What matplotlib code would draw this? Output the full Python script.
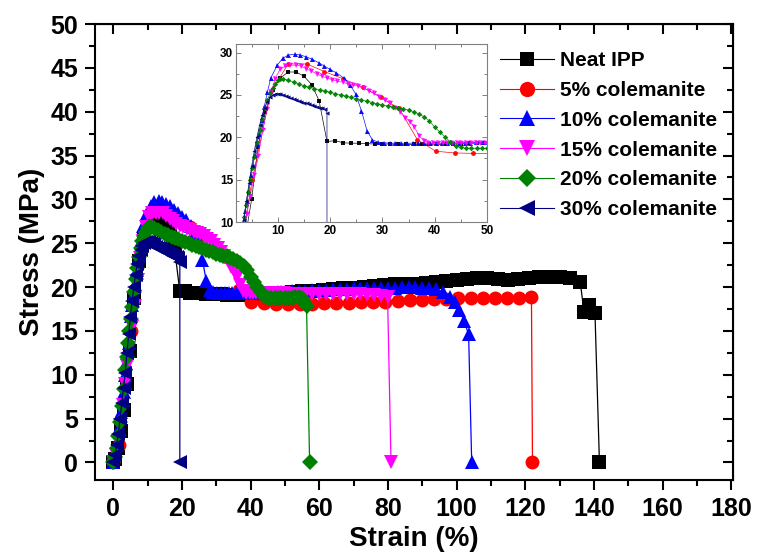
import matplotlib
matplotlib.use('Agg')
import matplotlib.pyplot as plt
from matplotlib.ticker import MultipleLocator

plt.rcParams['font.family'] = ['Liberation Sans', 'DejaVu Sans']
plt.rcParams['font.weight'] = 'bold'

# stress-strain data (strain %, stress MPa)
neat_x = [0.0, 0.5, 1.3, 2.2, 3.1, 4.0, 5.0, 6.2, 7.6, 9.0, 10.5, 12.0, 13.5, 15.0, 16.5, 17.9, 19.4,
          21.0, 22.5, 24.0, 25.5, 27.0, 28.5, 30.0, 31.5, 33.0, 34.5, 36.0, 37.5, 39.0, 40.5, 42.0, 43.5,
          45.0, 46.5, 48.0, 49.5, 52.0, 55.0, 58.0, 61.0, 64.0, 67.0, 70.0, 73.0, 76.0, 79.0, 82.0, 85.0,
          88.0, 91.0, 94.0, 97.0, 100.0, 103.0, 106.0, 109.0, 112.0, 115.0, 118.0, 121.0, 124.0, 127.0,
          130.0, 133.0, 136.0, 137.1, 138.6, 140.3, 141.6]
neat_y = [0.0, 0.4, 1.6, 3.6, 6.0, 9.0, 12.7, 18.8, 23.0, 25.6, 27.0, 27.7, 27.7, 27.2, 26.2, 24.3, 19.5,
          19.6, 19.35, 19.3, 19.3, 19.25, 19.2, 19.2, 19.2, 19.15, 19.15, 19.15, 19.15, 19.15, 19.15, 19.2,
          19.2, 19.25, 19.3, 19.3, 19.3, 19.4, 19.5, 19.6, 19.7, 19.8, 19.9, 19.95, 20.0, 20.1, 20.2, 20.3,
          20.3, 20.4, 20.5, 20.6, 20.7, 20.8, 20.9, 21.0, 21.0, 20.9, 20.8, 20.9, 21.0, 21.1, 21.1, 21.1,
          21.0, 20.6, 17.2, 18.0, 17.0, 0.0]

c5_x = [0.0, 1.6, 5.1, 8.7, 12.0, 15.6, 18.9, 22.5, 26.2, 29.7, 33.2, 36.7, 40.2, 43.8, 47.3, 50.8,
        54.4, 57.9, 61.5, 65.0, 68.6, 72.1, 75.7, 79.2, 82.8, 86.3, 89.9, 93.4, 97.0, 100.5, 104.1,
        107.6, 111.2, 114.7, 118.3, 121.8, 122.1]
c5_y = [0.0, 2.0, 15.0, 25.4, 28.65, 28.65, 27.75, 26.9, 25.9, 24.7, 23.4, 19.7, 18.35, 18.15, 18.1,
        18.1, 18.1, 18.1, 18.15, 18.2, 18.2, 18.25, 18.3, 18.35, 18.4, 18.5, 18.55, 18.6, 18.65, 18.7,
        18.75, 18.75, 18.8, 18.8, 18.8, 18.85, 0.0]

c10_x = [0.0, 0.6, 1.2, 1.8, 2.4, 3.0, 3.4, 3.8, 4.1, 4.5, 4.8, 5.2, 5.6, 6.0, 6.4, 6.9, 7.4, 8.0, 8.65,
         9.9, 10.9, 12.0, 13.2, 14.3, 15.4, 16.6, 17.8, 18.9, 20.0, 21.2, 22.6, 23.8, 24.9, 26.0, 27.1,
         28.1, 29.2, 30.3, 31.4, 32.5, 33.6, 34.7, 35.8, 36.9, 38.0, 39.1, 40.2, 41.3, 42.4, 43.5, 44.6,
         45.7, 46.8, 47.9, 49.0, 50.1, 52.0, 54.0, 56.0, 58.0, 60.0, 62.0, 64.0, 66.0, 68.0, 70.0, 72.0,
         74.0, 76.0, 78.0, 80.0, 82.0, 84.0, 86.0, 88.0, 90.0, 92.0, 94.0, 96.0, 98.0, 99.6, 100.8,
         102.2, 103.5, 104.4]
c10_y = [0.0, 0.8, 2.2, 3.9, 5.8, 8.0, 10.0, 11.3, 12.5, 13.6, 15.5, 16.7, 17.9, 19.2, 20.4, 22.0, 23.6,
         25.3, 27.0, 28.5, 29.3, 29.7, 29.8, 29.7, 29.5, 29.2, 28.8, 28.4, 28.0, 27.6, 27.0, 26.2, 25.1,
         23.1, 20.7, 19.7, 19.4, 19.35, 19.3, 19.3, 19.3, 19.3, 19.3, 19.3, 19.3, 19.3, 19.3, 19.3, 19.3,
         19.3, 19.35, 19.35, 19.35, 19.4, 19.4, 19.4, 19.5, 19.55, 19.6, 19.65, 19.7, 19.7, 19.75, 19.8,
         19.8, 19.85, 19.85, 19.9, 19.9, 19.9, 19.95, 19.95, 20.0, 20.0, 20.0, 19.95, 19.9, 19.75, 19.45,
         18.9, 18.3, 17.4, 16.1, 14.6, 0.0]

c15_x = [0.0, 0.7, 1.4, 2.1, 2.8, 3.5, 4.1, 4.7, 5.5, 6.3, 7.1, 7.9, 8.7, 9.5, 10.4, 11.4, 12.4, 13.4,
         14.4, 15.4, 16.4, 17.4, 18.4, 19.4, 20.4, 21.4, 22.4, 23.4, 24.4, 25.4, 26.4, 27.4, 28.4, 29.4,
         30.4, 31.4, 32.4, 33.4, 34.4, 35.3, 36.1, 37.0, 37.9, 38.8, 39.7, 40.6, 41.5, 42.4, 43.3, 44.2,
         45.1, 46.0, 46.9, 47.8, 48.7, 49.6, 52.0, 54.0, 56.0, 58.0, 60.0, 62.0, 64.0, 66.0, 68.0, 70.0,
         72.0, 74.0, 76.0, 78.0, 79.9, 80.9]
c15_y = [0.0, 0.9, 2.4, 4.3, 6.5, 8.9, 11.0, 13.0, 15.5, 17.8, 20.8, 23.3, 25.3, 26.9, 28.0, 28.4, 28.5,
         28.5, 28.4, 28.1, 27.8, 27.5, 27.2, 27.0, 26.8, 26.6, 26.5, 26.3, 26.2, 26.0, 25.8, 25.5, 25.2,
         24.8, 24.4, 24.0, 23.5, 23.0, 22.3, 21.8, 21.2, 20.2, 19.6, 19.35, 19.3, 19.3, 19.3, 19.3, 19.3,
         19.3, 19.3, 19.3, 19.3, 19.3, 19.3, 19.3, 19.25, 19.25, 19.2, 19.2, 19.2, 19.2, 19.2, 19.2, 19.2,
         19.2, 19.2, 19.15, 19.1, 19.0, 18.9, 0.0]

c20_x = [0.0, 0.5, 1.0, 1.5, 2.0, 2.5, 3.0, 3.5, 3.9, 4.3, 4.7, 5.1, 5.5, 6.0, 6.5, 7.0, 7.5, 8.0, 8.5,
         9.0, 9.5, 10.0, 10.5, 11.0, 12.0, 13.0, 14.0, 15.0, 16.0, 17.0, 18.0, 19.0, 20.0, 21.0, 22.0,
         23.0, 24.0, 25.0, 26.0, 27.0, 28.0, 29.0, 30.0, 31.0, 32.0, 33.0, 34.0, 35.0, 36.0, 37.0, 38.0,
         39.0, 40.0, 41.0, 42.0, 43.0, 44.0, 45.0, 46.0, 47.0, 48.0, 49.0, 50.0, 51.0, 52.0, 53.0, 54.0,
         55.0, 55.7, 56.3, 57.2]
c20_y = [0.0, 0.6, 1.7, 3.0, 4.6, 6.4, 8.4, 10.6, 12.0, 13.6, 15.0, 16.4, 17.7, 19.4, 20.9, 22.2, 23.4,
         24.4, 25.2, 25.8, 26.3, 26.7, 26.9, 26.9, 26.7, 26.5, 26.3, 26.05, 25.9, 25.75, 25.6, 25.45, 25.3,
         25.15, 25.0, 24.85, 24.7, 24.55, 24.4, 24.25, 24.1, 23.95, 23.8, 23.7, 23.6, 23.5, 23.35, 23.2,
         23.0, 22.75, 22.4, 21.9, 21.2, 20.6, 20.0, 19.45, 19.0, 18.8, 18.7, 18.7, 18.7, 18.7, 18.7,
         18.75, 18.8, 18.85, 18.9, 18.7, 18.3, 17.8, 0.0]

c30_x = [0.0, 0.5, 1.0, 1.5, 2.0, 2.5, 3.0, 3.5, 4.0, 4.5, 5.0, 5.5, 6.0, 6.5, 7.0, 7.5, 8.0, 8.5, 9.0,
         9.5, 10.0, 10.5, 11.0, 11.5, 12.0, 12.5, 13.0, 13.5, 14.0, 14.5, 15.0, 15.5, 16.0, 16.5, 17.0,
         17.5, 18.0, 18.5, 19.0, 19.4, 19.4]
c30_y = [0.0, 0.8, 2.0, 3.3, 5.0, 6.8, 8.5, 10.2, 12.5, 14.6, 16.6, 18.4, 20.0, 21.4, 22.6, 23.5, 24.2,
         24.7, 25.0, 25.1, 25.15, 25.1, 25.0, 24.9, 24.75, 24.6, 24.5, 24.4, 24.3, 24.2, 24.1, 24.0, 23.9,
         23.8, 23.7, 23.6, 23.5, 23.4, 23.3, 22.9, 0.05]

labels = ['Neat IPP', '5% colemanite', '10% colemanite', '15% colemanite',
          '20% colemanite', '30% colemanite']
colors = ['#000000', '#ff0000', '#0000ff', '#ff00ff', '#008000', '#000080']
markers = ['s', 'o', '^', 'v', 'D', '<']
sizes = [9.5, 10, 10.5, 10.5, 8, 10]
inset_sizes = [3, 3.5, 3.6, 3.6, 2.8, 3]
series = [(neat_x, neat_y), (c5_x, c5_y), (c10_x, c10_y), (c15_x, c15_y),
          (c20_x, c20_y), (c30_x, c30_y)]

fig = plt.figure(figsize=(7.6, 5.56), dpi=100)
ax = fig.add_axes([0.125, 0.1367, 0.8395, 0.8201])

for (x, y), lab, c, m, s in zip(series, labels, colors, markers, sizes):
    ax.plot(x, y, color=c, marker=m, markersize=s, linewidth=0.9,
            markeredgewidth=0, label=lab)

ax.set_xlim(-5.3, 180.5)
ax.set_ylim(-2, 50)
ax.xaxis.set_major_locator(MultipleLocator(20))
ax.xaxis.set_minor_locator(MultipleLocator(10))
ax.yaxis.set_major_locator(MultipleLocator(5))
ax.yaxis.set_minor_locator(MultipleLocator(2.5))
ax.tick_params(which='major', direction='out', length=7, width=1.5, labelsize=18, pad=5)
ax.tick_params(which='minor', direction='out', length=4, width=1.5)
for sp in ax.spines.values():
    sp.set_linewidth(1.5)
ax.set_xlabel('Strain (%)', fontsize=20, fontweight='bold', labelpad=4)
ax.set_ylabel('Stress (MPa)', fontsize=20, fontweight='bold', labelpad=4)

# top / right ticks point inward
top = ax.secondary_xaxis('top')
top.xaxis.set_major_locator(MultipleLocator(20))
top.xaxis.set_minor_locator(MultipleLocator(10))
top.tick_params(which='major', direction='in', length=7, width=1.5, labeltop=False)
top.tick_params(which='minor', direction='in', length=4, width=1.5)
right = ax.secondary_yaxis('right')
right.yaxis.set_major_locator(MultipleLocator(5))
right.yaxis.set_minor_locator(MultipleLocator(2.5))
right.tick_params(which='major', direction='in', length=7, width=1.5, labelright=False)
right.tick_params(which='minor', direction='in', length=4, width=1.5)

leg = ax.legend(loc='upper left', bbox_to_anchor=(500 / 760, 1 - 51 / 556),
                bbox_transform=fig.transFigure, frameon=False, fontsize=15,
                borderpad=0, borderaxespad=0, handlelength=2.6, handletextpad=0.3,
                labelspacing=0.52, markerscale=1.1)
for h in leg.legend_handles:
    h.set_linewidth(0.8)

# inset
ins = fig.add_axes([0.3105, 0.6007, 0.3303, 0.3201])
for (x, y), c, m, s in zip(series, colors, markers, inset_sizes):
    ins.plot(x, y, color=c, marker=m, markersize=s, linewidth=0.5,
             markeredgewidth=0, alpha=0.95)
ins.set_xlim(2, 50)
ins.set_ylim(10, 31)
ins.xaxis.set_major_locator(MultipleLocator(10))
ins.xaxis.set_minor_locator(MultipleLocator(5))
ins.yaxis.set_major_locator(MultipleLocator(5))
ins.yaxis.set_minor_locator(MultipleLocator(2.5))
ins.tick_params(which='both', direction='in', top=True, right=True, color='#808080',
                width=0.7, labelsize=8.5, pad=2)
ins.tick_params(which='major', length=3.5)
ins.tick_params(which='minor', length=2)
for sp in ins.spines.values():
    sp.set_color('#808080')
    sp.set_linewidth(0.8)

fig.savefig('out.png', dpi=100)
